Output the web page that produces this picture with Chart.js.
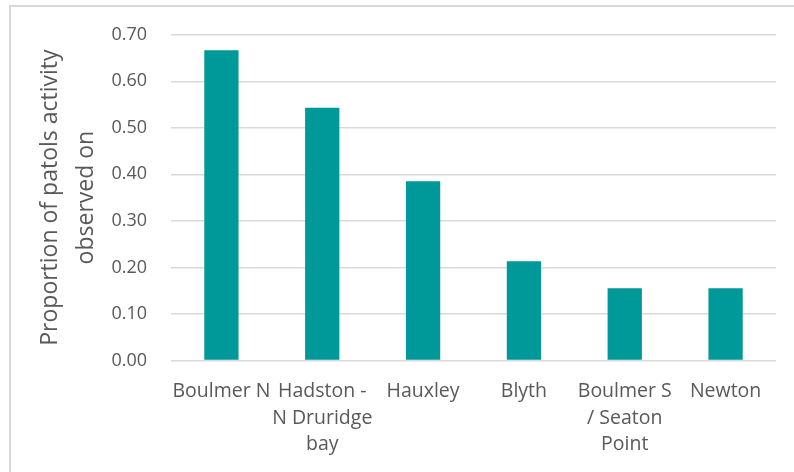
<!DOCTYPE html>
<html>
<head>
<meta charset="utf-8">
<script src="https://cdn.jsdelivr.net/npm/chart.js@4/dist/chart.umd.min.js"></script>
<style>
  html, body { margin: 0; padding: 0; background: #ffffff; }
  #wrap { position: relative; width: 794px; height: 472px; overflow: hidden; }
  #frame { position: absolute; left: 9px; top: 5px; width: 800px; height: 480px;
           border-top: 2px solid #d9d9d9; border-left: 2px solid #d9d9d9; pointer-events: none; }
  canvas { position: absolute; left: 0; top: 0; }
</style>
</head>
<body>
<div id="wrap">
  <canvas id="c" width="794" height="472"></canvas>
  <div id="frame"></div>
</div>
<script>
const categories = [
  "Boulmer N",
  ["Hadston -", "N Druridge", "bay"],
  "Hauxley",
  "Blyth",
  ["Boulmer S", "/ Seaton", "Point"],
  "Newton"
];
const proportions = [0.667, 0.543, 0.385, 0.213, 0.155, 0.155];
const yAxisTitle = ["Proportion of patols activity", "observed on"];

const FONT = "'Open Sans', sans-serif";
const TEXT = "#595959";

new Chart(document.getElementById('c'), {
  type: 'bar',
  data: {
    labels: categories,
    datasets: [{
      data: proportions,
      backgroundColor: '#009999',
      borderWidth: 0,
      categoryPercentage: 1.0,
      barPercentage: 0.34
    }]
  },
  options: {
    responsive: false,
    devicePixelRatio: 1,
    animation: false,
    layout: { padding: { left: 32, right: 18, top: 24, bottom: 4 } },
    plugins: { legend: { display: false }, tooltip: { enabled: false } },
    scales: {
      x: {
        grid: { display: false },
        border: { display: false },
        ticks: {
          color: TEXT, padding: 10, maxRotation: 0, autoSkip: false,
          font: { family: FONT, size: 19.5, lineHeight: 1.36 }
        }
      },
      y: {
        min: 0, max: 0.7,
        afterFit: (scale) => { scale.width = 139; },
        grid: { color: '#d9d9d9', lineWidth: 1.5, drawTicks: false },
        border: { display: false },
        ticks: {
          stepSize: 0.1, color: TEXT, padding: 24,
          font: { family: FONT, size: 18 },
          callback: v => Number(v).toFixed(2)
        },
        title: {
          display: true, text: yAxisTitle, color: TEXT,
          font: { family: FONT, size: 23, lineHeight: 1.565 },
          padding: { top: 0, bottom: 6 }
        }
      }
    }
  }
});
</script>
</body>
</html>
